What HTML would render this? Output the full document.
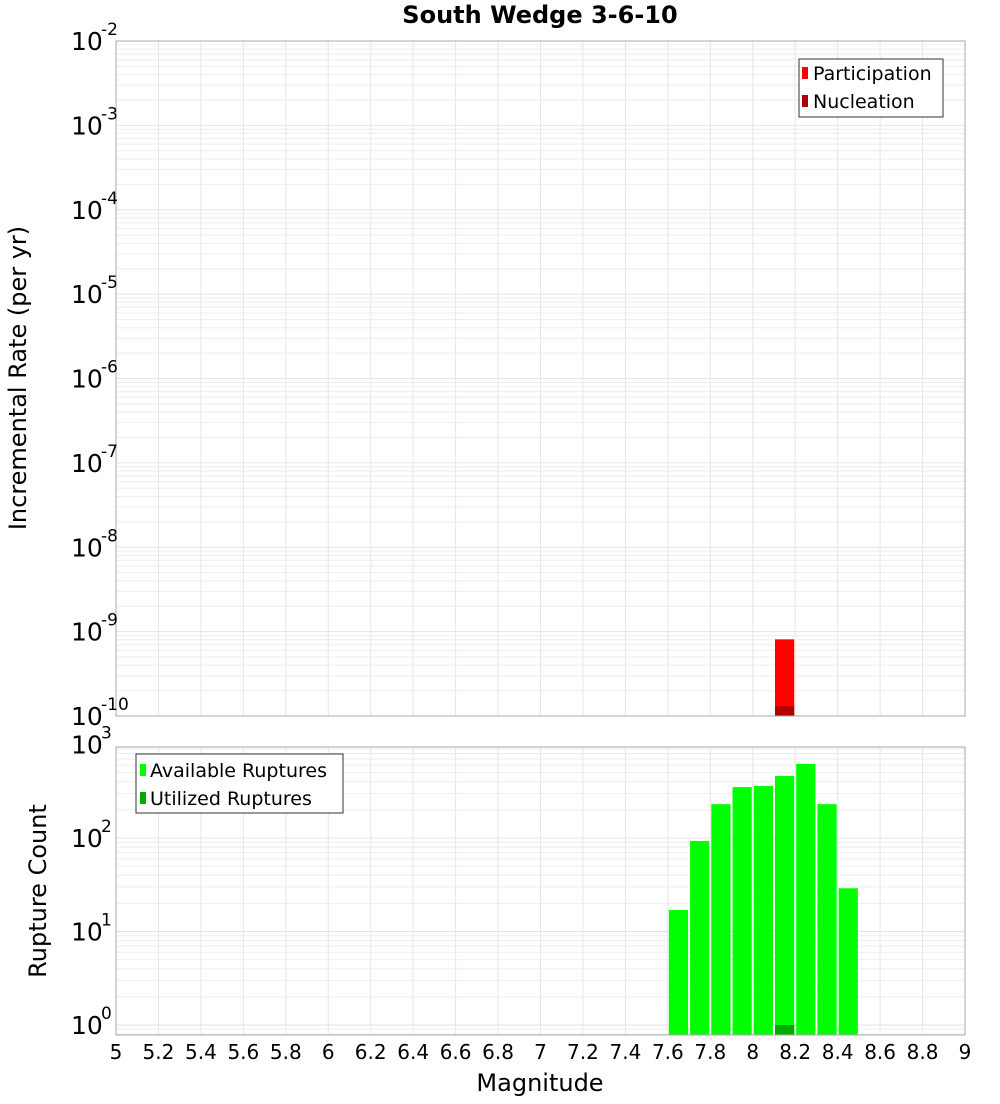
<!DOCTYPE html>
<html><head><meta charset="utf-8"><style>
body{margin:0;background:#fff;font-family:"DejaVu Sans","Liberation Sans",sans-serif;}
</style></head><body>
<svg id="chart" width="1000" height="1100" xmlns="http://www.w3.org/2000/svg" font-family="DejaVu Sans, Liberation Sans, sans-serif">
<text x="540" y="23" text-anchor="middle" font-size="24" font-weight="bold">South Wedge 3-6-10</text>
<g id="top"></g><g id="bot"></g><g id="xax"></g>
<text transform="translate(26,378) rotate(-90)" text-anchor="middle" font-size="24">Incremental Rate (per yr)</text>
<text transform="translate(46,891) rotate(-90)" text-anchor="middle" font-size="24">Rupture Count</text>
<text x="540" y="1091" text-anchor="middle" font-size="24">Magnitude</text>
<g>
<rect x="799" y="59" width="144" height="58" fill="#fff" stroke="#333"/>
<rect x="802" y="67" width="6" height="12" fill="#ff0000"/>
<text x="813" y="80" font-size="19">Participation</text>
<rect x="802" y="95" width="6" height="12" fill="#b00000"/>
<text x="813" y="108" font-size="19">Nucleation</text>
</g>
<g>
<rect x="136" y="754" width="207" height="59" fill="#fff" stroke="#333"/>
<rect x="140" y="764" width="6" height="12" fill="#00ff00"/>
<text x="150" y="777" font-size="19">Available Ruptures</text>
<rect x="140" y="792" width="6" height="12" fill="#00aa00"/>
<text x="150" y="805" font-size="19">Utilized Ruptures</text>
</g>
</svg>
<script>
const partMags=[8.15];
const partRates=[8.1e-10];
const nuclMags=[8.15];
const nuclRates=[1.31e-10];
const availMags=[7.65,7.75,7.85,7.95,8.05,8.15,8.25,8.35,8.45];
const availCounts=[17,93,230,350,360,460,620,230,29];
const utilMags=[8.15];
const utilCounts=[1];
const xTicks=["5","5.2","5.4","5.6","5.8","6","6.2","6.4","6.6","6.8","7","7.2","7.4","7.6","7.8","8","8.2","8.4","8.6","8.8","9"];
const topExps=[-10,-9,-8,-7,-6,-5,-4,-3,-2];
const botExps=[0,1,2,3];

const NS="http://www.w3.org/2000/svg";
const X0=116,X1=965;
const xs=m=>X0+(m-5)/4*(X1-X0);
const yTop=v=>716-(Math.log10(v)+10)*84.375;
const yBot=v=>1025-Math.log10(v)*93.5;
function mk(p,t,a){const e=document.createElementNS(NS,t);for(const k in a)e.setAttribute(k,a[k]);p.appendChild(e);return e;}

function panel(g,top,bottom,ys,lo,hi,name){
  mk(g,'rect',{x:X0,y:top,width:X1-X0,height:bottom-top,fill:'#fff'});
  for(let e=lo;e<=hi;e++)for(let k=1;k<10;k++){const y=ys(k*Math.pow(10,e));if(y<top||y>bottom)continue;
    const l=mk(g,'line',{x1:X0,x2:X1,y1:y,y2:y,stroke:k==1?'#e4e4e4':'#eeeeee','stroke-width':1});
    
    }
  xTicks.forEach(t=>{const x=xs(+t);const l=mk(g,'line',{x1:x,x2:x,y1:top,y2:bottom,stroke:'#e6e6e6'});
    
    });
}
const gt=document.getElementById('top'),gb=document.getElementById('bot');
panel(gt,41,716,yTop,-10,-3,'top');
panel(gb,747,1035,yBot,-1,3,'bottom');

function bars(g,mags,vals,ys,base,fill,name){
  mags.forEach((m,i)=>{const y=Math.max(ys(vals[i]),0);
    const r=mk(g,'rect',{x:xs(m-0.05)+1,y:y,width:xs(m+0.05)-xs(m-0.05)-2,height:base-y,fill:fill});
    
    });
}
bars(gt,partMags,partRates,yTop,716,'#ff0000','participation');
bars(gt,nuclMags,nuclRates,yTop,716,'#b00000','nucleation');
bars(gb,availMags,availCounts,yBot,1035,'#00ff00','available');
bars(gb,utilMags,utilCounts,yBot,1035,'#00aa00','utilized');

mk(gt,'rect',{x:X0,y:41,width:X1-X0,height:675,fill:'none',stroke:'#aaa'});
mk(gb,'rect',{x:X0,y:747,width:X1-X0,height:288,fill:'none',stroke:'#aaa'});

function ylabels(g,exps,ys,name){
  exps.forEach(e=>{const y=ys(Math.pow(10,e));
    const t=mk(g,'text',{x:71,y:y+9,'font-size':25});
    
    
    t.textContent='10';
    const s=mk(g,'text',{x:101,y:y-6,'font-size':17});
    
    
    s.textContent=String(e);});
}
ylabels(gt,topExps,yTop,'top');
ylabels(gb,botExps,yBot,'bottom');

const gx=document.getElementById('xax');
xTicks.forEach(t=>{const tx=mk(gx,'text',{x:xs(+t),y:1059,'text-anchor':'middle','font-size':20});
  
  
  tx.textContent=t;});
</script>
</body></html>
